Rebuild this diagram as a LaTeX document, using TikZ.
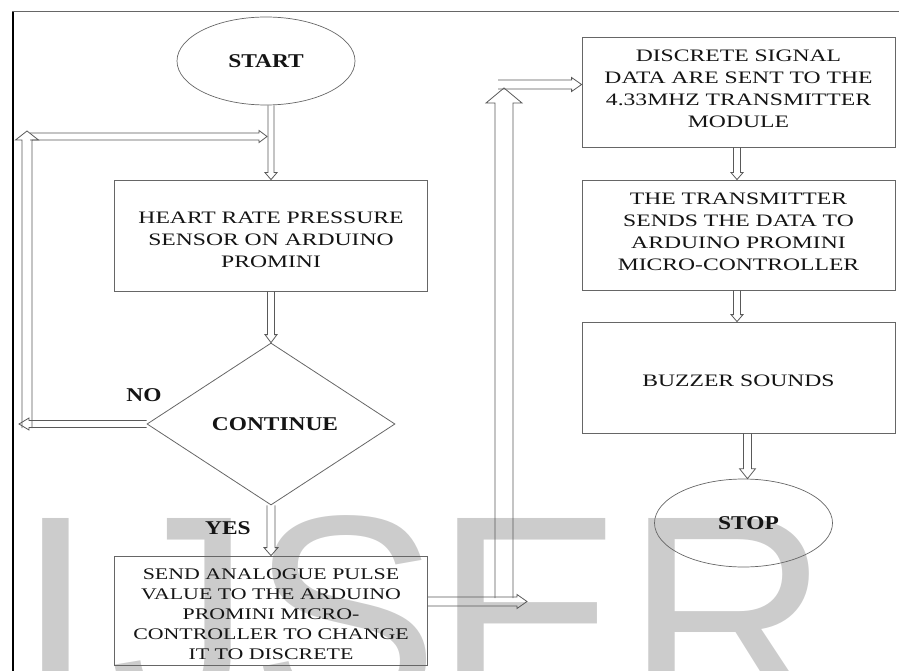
\documentclass[tikz,border=0pt]{standalone}
\usepackage{fontspec}
\setmainfont{Liberation Serif}
\newfontfamily\boxfont[FakeStretch=1.35]{Liberation Serif}
\newfontfamily\labfont[FakeStretch=1.2]{Liberation Serif}
\newfontfamily\wmfont{Liberation Sans}
\usetikzlibrary{shapes.geometric,calc}
\begin{document}
\begin{tikzpicture}[x=1pt,y=-1pt,
  boxnode/.style={draw=black!60, line width=0.8pt, minimum width=313pt, minimum height=110pt,
    inner sep=0pt, align=center, text=black!92, font=\boxfont\fontsize{17.5}{22}\selectfont},
  smallbox/.style={boxnode, font=\boxfont\fontsize{16.2}{20}\selectfont},
  term/.style={ellipse, draw=black!60, line width=0.7pt, minimum width=178pt, minimum height=88pt,
    inner sep=0pt, text=black!92, font=\labfont\bfseries\fontsize{19.5}{22}\selectfont},
  dec/.style={diamond, draw=black!60, line width=0.8pt, minimum width=248pt, minimum height=162pt,
    inner sep=0pt, aspect=1.53, text=black!92, font=\labfont\bfseries\fontsize{19.5}{22}\selectfont},
  lab/.style={inner sep=0pt, text=black!92, font=\labfont\bfseries\fontsize{19.5}{22}\selectfont},
  hollow/.style n args={3}{draw=black!65, line width=0.8pt, line join=miter, to path={
    let \p1=($(\tikztotarget)!#3!(\tikztostart)$) in
    ($(\tikztostart)!#1!90:(\tikztotarget)$) -- ($(\p1)!#1!90:(\tikztotarget)$)
    -- ($(\p1)!#2!90:(\tikztotarget)$) -- (\tikztotarget)
    -- ($(\p1)!#2!-90:(\tikztotarget)$) -- ($(\p1)!#1!-90:(\tikztotarget)$)
    -- ($(\tikztostart)!#1!-90:(\tikztotarget)$)}},
  wm/.style={text=black!20, font=\wmfont\fontsize{283.5}{283.5}\selectfont, inner sep=0pt, anchor=base west}
]
\useasboundingbox (0,0) rectangle (899,671);
\begin{scope}
\clip (0,0) rectangle (899,671);
\node[wm] (wI) at (16.4,713) {I};
\node[wm] (wJ) at (110,713) {J};
\node[wm] (wS) at (250,713) {S};
\node[wm] (wE) at (434.6,713) {E};
\node[wm] (wR) at (625,713) {R};
\end{scope}

% frame lines
\draw[line width=2pt] (12.5,11) -- (12.5,671);
\draw[black!60, line width=0.8pt] (12,11) -- (899,11);

% nodes
\node[term] (start) at (266,61) {START};
\node[boxnode, minimum height=111pt] (b1) at (271,235.5) {\rule{0pt}{20pt}HEART RATE PRESSURE\\SENSOR ON ARDUINO\\PROMINI};
\node[dec] (cont) at (271,424) {\hspace*{8pt}CONTINUE};
\node[lab] (no) at (144,395) {NO};
\node[lab] (yes) at (228,528) {YES};
\node[smallbox, minimum height=109pt] (b2) at (271,610.5) {\rule{0pt}{18.7pt}SEND ANALOGUE PULSE\\VALUE TO THE ARDUINO\\PROMINI MICRO-\\CONTROLLER TO CHANGE\\IT TO DISCRETE};
\node[boxnode] (b3) at (738.5,92) {DISCRETE SIGNAL\\DATA ARE SENT TO THE\\4.33MHZ TRANSMITTER\\MODULE\rule[-6pt]{0pt}{6pt}};
\node[boxnode] (b4) at (738.5,235) {THE TRANSMITTER\\SENDS THE DATA TO\\ARDUINO PROMINI\\MICRO-CONTROLLER\rule[-6pt]{0pt}{6pt}};
\node[boxnode, minimum height=111pt] (b5) at (738.5,377.5) {\rule{0pt}{17.6pt}BUZZER SOUNDS};
\node[term] (stop) at (743.5,523) {\hspace*{10pt}STOP};

% helper coordinates
\coordinate (nl) at (19,424);
\coordinate (vb) at (27,428);
\coordinate (vt) at (27,131);
\coordinate (hs) at (30,136.5);
\coordinate (he) at (267,136.5);
\coordinate (re) at (527,601.5);
\coordinate (ub) at (504,598);
\coordinate (ut) at (504,88);
\coordinate (ts) at (498,84.5);

% connectors
\draw[hollow={3pt}{6pt}{7pt}] (b1.north |- start.south) to (b1.north);
\draw[hollow={3.5pt}{6pt}{8pt}] (b1.south) to (cont.north);
\draw[hollow={4pt}{7pt}{8pt}] (cont.south) to (b2.north);
\draw[hollow={3.5pt}{6pt}{10pt}] (cont.west) to (nl);
\draw[hollow={5pt}{11.5pt}{9pt}] (vb) to (vt);
\draw[hollow={3.5pt}{6pt}{8pt}] (hs) to (he);
\draw[hollow={4.5pt}{7pt}{10pt}] ([yshift=9pt]b2.east) to (re);
\draw[hollow={9pt}{18pt}{15pt}] (ub) to (ut);
\draw[hollow={4.5pt}{7pt}{10pt}] (ts) to (ts -| b3.west);
\draw[hollow={3.5pt}{6pt}{7pt}] ([xshift=-1.5pt]b3.south) to ([xshift=-1.5pt]b4.north);
\draw[hollow={3.5pt}{6pt}{7pt}] ([xshift=-1.5pt]b4.south) to ([xshift=-1.5pt]b5.north);
\draw[hollow={4pt}{8pt}{10pt}] ([xshift=9pt]b5.south) to ([xshift=9pt]b5.south |- stop.north);
\end{tikzpicture}
\end{document}
